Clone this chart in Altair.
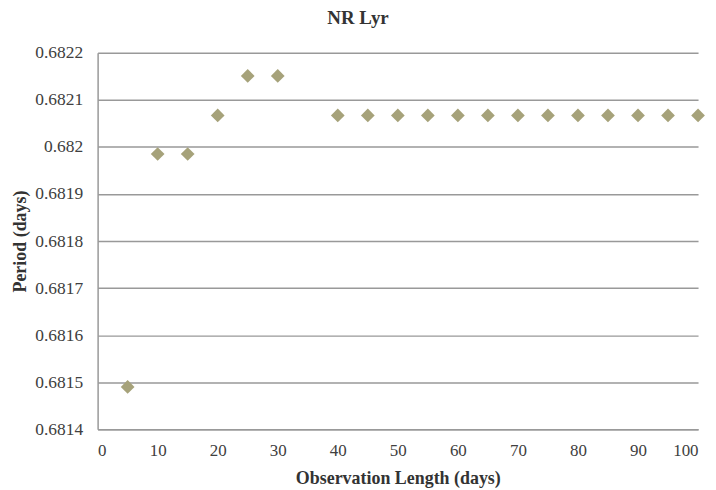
import altair as alt
import pandas as pd

obs_length = [5, 10, 15, 20, 25, 30, 40, 45, 50, 55, 60, 65, 70, 75, 80, 85, 90, 95, 100]
period = [0.68149, 0.681985, 0.681985, 0.682067, 0.682151, 0.682151,
          0.682067, 0.682067, 0.682067, 0.682067, 0.682067, 0.682067, 0.682067,
          0.682067, 0.682067, 0.682067, 0.682067, 0.682067, 0.682067]
y_ticks = [0.6814 + i * 0.0001 for i in range(9)]
x_ticks = list(range(0, 101, 10))

df = pd.DataFrame({"x": obs_length, "y": period})

font = "Liberation Serif"

chart = alt.Chart(df).mark_point(
    shape="diamond", filled=True, size=190, color="#A6A27A", opacity=1
).encode(
    x=alt.X("x:Q", title="Observation Length (days)",
            scale=alt.Scale(domain=[0, 100], nice=False),
            axis=alt.Axis(values=x_ticks, grid=False, ticks=False, domainColor="#999999",
                          domainWidth=1.5, labelPadding=13, titlePadding=12,
                          labelFont=font, labelFontSize=17, labelColor="#404040",
                          titleFont=font, titleFontSize=18, titleFontWeight="bold",
                          titleColor="#333333")),
    y=alt.Y("y:Q", title="Period (days)",
            scale=alt.Scale(domain=[0.6814, 0.6822], nice=False, zero=False),
            axis=alt.Axis(values=y_ticks, grid=True, gridColor="#999999", gridWidth=1.5,
                          ticks=False, domainColor="#999999", domainWidth=1.5,
                          labelExpr="'' + round(datum.value*10000)/10000",
                          labelPadding=15, titlePadding=5,
                          labelFont=font, labelFontSize=17.5, labelColor="#404040",
                          titleFont=font, titleFontSize=18, titleFontWeight="bold",
                          titleColor="#333333")),
).properties(
    width=603, height=378,
    title=alt.TitleParams("NR Lyr", font=font, fontSize=19, fontWeight="bold",
                          color="#333333", anchor="middle", offset=16, dx=-40),
    autosize=alt.AutoSizeParams(type="none"),
    padding={"left": 90, "top": 44, "right": 10, "bottom": 60},
).configure_view(stroke=None)

chart.save("out.html", embed_options={"renderer": "svg", "actions": False})
